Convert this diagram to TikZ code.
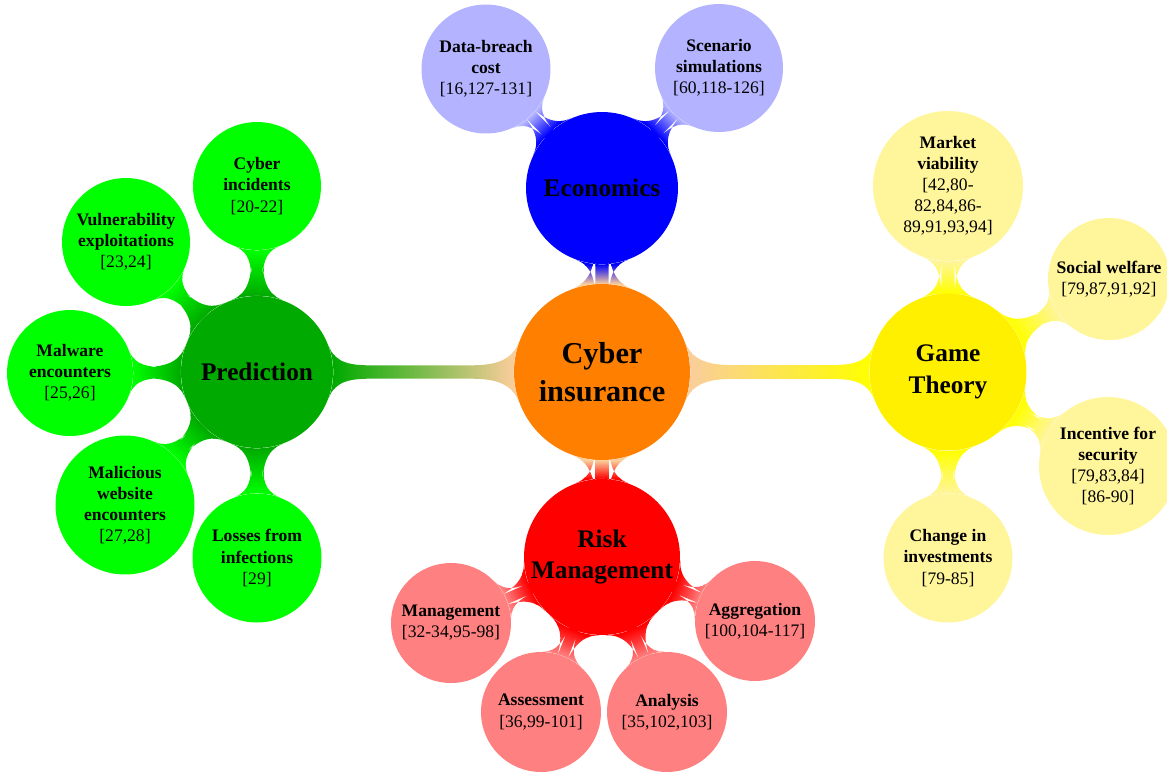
\documentclass[tikz,border=0pt]{standalone}
\usepackage{fontspec}
\setmainfont{Liberation Serif}
\usetikzlibrary{mindmap,backgrounds}
\definecolor{cOrange}{RGB}{255,128,0}
\definecolor{cOrangeL}{RGB}{250,205,155}
\definecolor{cBlue}{RGB}{0,0,255}
\definecolor{cBlueL}{RGB}{179,179,255}
\definecolor{cGreenD}{RGB}{0,170,0}
\definecolor{cGreen}{RGB}{0,255,0}
\definecolor{cYellow}{RGB}{255,240,0}
\definecolor{cYellowB}{RGB}{255,255,0}
\definecolor{cYellowL}{RGB}{255,245,155}
\definecolor{cRed}{RGB}{255,0,0}
\definecolor{cRedL}{RGB}{255,128,128}
\tikzset{
  bubble/.style={circle,inner sep=0pt,align=center,text=black},
  rootbub/.style={bubble,fill=cOrange,minimum size=3.52cm,font=\LARGE\bfseries},
  mainbub/.style={bubble,minimum size=3.04cm,font=\Large\bfseries},
  subbub/.style={bubble,font=\normalsize},
  lvlone/.style={line width=0.28cm},
  lvltwo/.style={line width=0.24cm},
}
\newcommand{\bl}[1]{\textbf{#1}}
\begin{document}
\begin{tikzpicture}[x=0.02cm,y=-0.02cm]
\useasboundingbox (0,0) rectangle (1167,772);
% root and main concepts
\node[rootbub] (root) at (602,372) {Cyber\\insurance};
\node[mainbub,fill=cBlue] (econ) at (602,188) {Economics};
\node[mainbub,fill=cGreenD] (pred) at (257,372) {Prediction};
\node[mainbub,fill=cYellow,minimum size=3.14cm] (game) at (948,372) {Game\\Theory};
\node[mainbub,fill=cRed,minimum size=3.12cm] (risk) at (602,557) {Risk\\Management};
% economics
\node[subbub,fill=cBlueL,minimum size=2.58cm] (db) at (486,69) {\bl{Data-breach}\\\bl{cost}\\{}[16,127-131]};
\node[subbub,fill=cBlueL,minimum size=2.56cm] (ss) at (719,68) {\bl{Scenario}\\\bl{simulations}\\{}[60,118-126]};
% prediction
\node[subbub,fill=cGreen,minimum size=2.56cm] (ci) at (257,186) {\bl{Cyber}\\\bl{incidents}\\{}[20-22]};
\node[subbub,fill=cGreen,minimum size=2.56cm] (ve) at (126,242) {\bl{Vulnerability}\\\bl{exploitations}\\{}[23,24]};
\node[subbub,fill=cGreen,minimum size=2.52cm] (me) at (70,373) {\bl{Malware}\\\bl{encounters}\\{}[25,26]};
\node[subbub,fill=cGreen,minimum size=2.78cm] (mw) at (125,505) {\bl{Malicious}\\\bl{website}\\\bl{encounters}\\{}[27,28]};
\node[subbub,fill=cGreen,minimum size=2.58cm] (lf) at (257,558) {\bl{Losses from}\\\bl{infections}\\{}[29]};
% game theory
\node[subbub,fill=cYellowL,minimum size=3.0cm] (mv) at (948,186) {\bl{Market}\\\bl{viability}\\{}[42,80-\\82,84,86-\\89,91,93,94]};
\node[subbub,fill=cYellowL,minimum size=2.44cm] (sw) at (1109,279) {\bl{Social welfare}\\{}[79,87,91,92]};
\node[subbub,fill=cYellowL,minimum size=2.76cm] (is) at (1108,466) {\bl{Incentive for}\\\bl{security}\\{}[79,83,84]\\{}[86-90]};
\node[subbub,fill=cYellowL,minimum size=2.58cm] (cinv) at (948,558) {\bl{Change in}\\\bl{investments}\\{}[79-85]};
% risk management
\node[subbub,fill=cRedL,minimum size=2.4cm] (mg) at (451,623) {\bl{Management}\\{}[32-34,95-98]};
\node[subbub,fill=cRedL,minimum size=2.4cm] (as) at (541,712) {\bl{Assessment}\\{}[36,99-101]};
\node[subbub,fill=cRedL,minimum size=2.4cm] (an) at (667,712) {\bl{Analysis}\\{}[35,102,103]};
\node[subbub,fill=cRedL,minimum size=2.4cm] (ag) at (755,621) {\bl{Aggregation}\\{}[100,104-117]};
% connections
\begin{scope}[on background layer]
\path[lvlone] (root) to[circle connection bar switch color=from (cOrangeL) to (cBlue)] (econ);
\path[lvlone] (root) to[circle connection bar switch color=from (cOrangeL) to (cGreenD)] (pred);
\path[lvlone] (root) to[circle connection bar switch color=from (cOrangeL) to (cYellowB)] (game);
\path[lvlone] (root) to[circle connection bar switch color=from (cOrangeL) to (cRed)] (risk);
\path[lvltwo] (econ) to[circle connection bar switch color=from (cBlue) to (cBlueL)] (db);
\path[lvltwo] (econ) to[circle connection bar switch color=from (cBlue) to (cBlueL)] (ss);
\foreach \c in {ci,ve,me,mw,lf}
  \path[lvltwo] (pred) to[circle connection bar switch color=from (cGreenD) to (cGreen)] (\c);
\foreach \c in {mv,sw,is,cinv}
  \path[lvltwo] (game) to[circle connection bar switch color=from (cYellowB) to (cYellowL)] (\c);
\foreach \c in {mg,as,an,ag}
  \path[lvltwo] (risk) to[circle connection bar switch color=from (cRed) to (cRedL)] (\c);
\end{scope}
\end{tikzpicture}
\end{document}
